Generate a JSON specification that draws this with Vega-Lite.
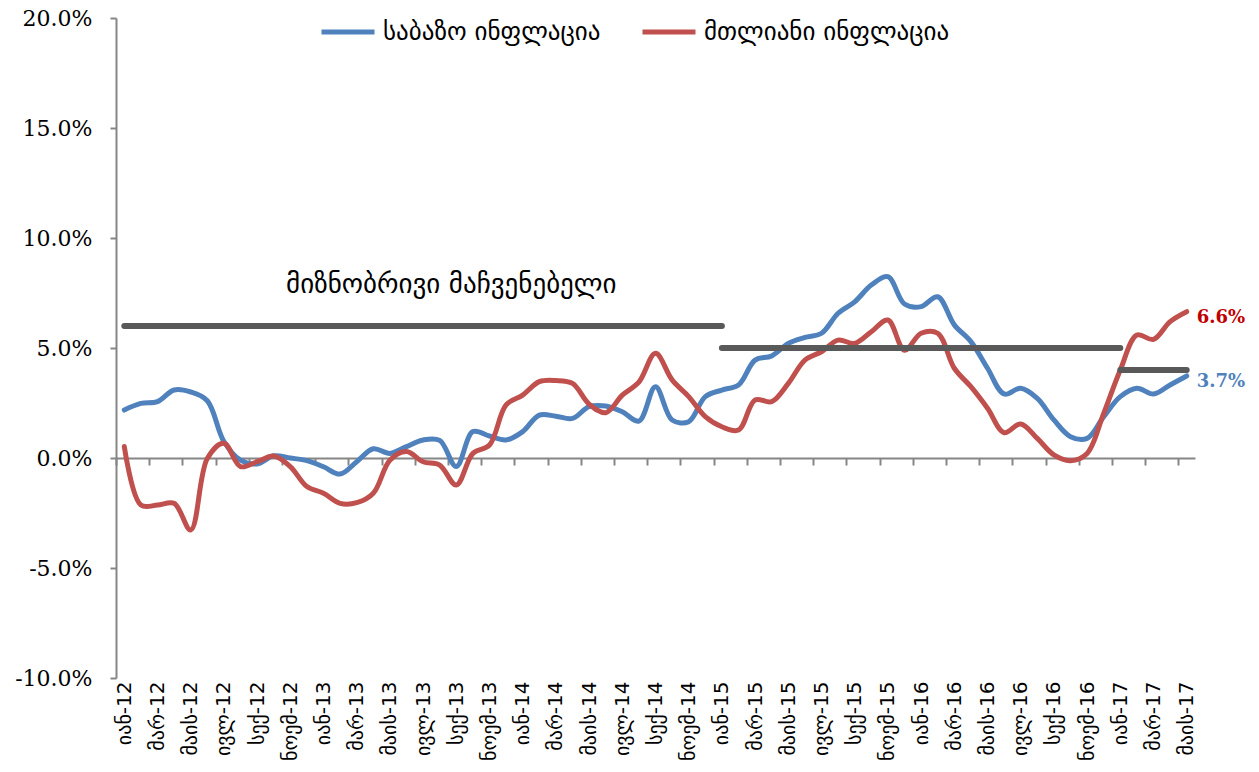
{
  "$schema": "https://vega.github.io/schema/vega-lite/v6.json",
  "width": 1079,
  "height": 660,
  "autosize": "none",
  "padding": {"left": 116, "top": 18, "right": 64, "bottom": 94},
  "background": "white",
  "config": {"view": {"stroke": null}, "font": "DejaVu Serif"},
  "layer": [
    {
      "data": {"values": [
        {"t": 0, "month": "იან-12", "core": 2.18, "headline": 0.52},
        {"t": 1, "month": "თებ-12", "core": 2.48, "headline": -2.14},
        {"t": 2, "month": "მარ-12", "core": 2.56, "headline": -2.14},
        {"t": 3, "month": "აპრ-12", "core": 3.09, "headline": -2.06},
        {"t": 4, "month": "მაის-12", "core": 3.0, "headline": -3.27},
        {"t": 5, "month": "ივნ-12", "core": 2.6, "headline": -0.02},
        {"t": 6, "month": "ივლ-12", "core": 0.75, "headline": 0.67},
        {"t": 7, "month": "აგვ-12", "core": -0.1, "headline": -0.39},
        {"t": 8, "month": "სექ-12", "core": -0.27, "headline": -0.17},
        {"t": 9, "month": "ოქტ-12", "core": 0.1, "headline": 0.09},
        {"t": 10, "month": "ნოემ-12", "core": 0.0, "headline": -0.39},
        {"t": 11, "month": "დეკ-12", "core": -0.12, "headline": -1.3},
        {"t": 12, "month": "იან-13", "core": -0.4, "headline": -1.6},
        {"t": 13, "month": "თებ-13", "core": -0.73, "headline": -2.06},
        {"t": 14, "month": "მარ-13", "core": -0.17, "headline": -2.03},
        {"t": 15, "month": "აპრ-13", "core": 0.42, "headline": -1.6},
        {"t": 16, "month": "მაის-13", "core": 0.21, "headline": -0.1},
        {"t": 17, "month": "ივნ-13", "core": 0.52, "headline": 0.29},
        {"t": 18, "month": "ივლ-13", "core": 0.82, "headline": -0.17},
        {"t": 19, "month": "აგვ-13", "core": 0.8, "headline": -0.32},
        {"t": 20, "month": "სექ-13", "core": -0.39, "headline": -1.23},
        {"t": 21, "month": "ოქტ-13", "core": 1.2, "headline": 0.21},
        {"t": 22, "month": "ნოემ-13", "core": 1.0, "headline": 0.59},
        {"t": 23, "month": "დეკ-13", "core": 0.82, "headline": 2.41},
        {"t": 24, "month": "იან-14", "core": 1.2, "headline": 2.86},
        {"t": 25, "month": "თებ-14", "core": 1.95, "headline": 3.47},
        {"t": 26, "month": "მარ-14", "core": 1.9, "headline": 3.52},
        {"t": 27, "month": "აპრ-14", "core": 1.8, "headline": 3.39},
        {"t": 28, "month": "მაის-14", "core": 2.33, "headline": 2.45},
        {"t": 29, "month": "ივნ-14", "core": 2.36, "headline": 2.06},
        {"t": 30, "month": "ივლ-14", "core": 2.1, "headline": 2.86},
        {"t": 31, "month": "აგვ-14", "core": 1.68, "headline": 3.45},
        {"t": 32, "month": "სექ-14", "core": 3.24, "headline": 4.76},
        {"t": 33, "month": "ოქტ-14", "core": 1.73, "headline": 3.55},
        {"t": 34, "month": "ნოემ-14", "core": 1.65, "headline": 2.79},
        {"t": 35, "month": "დეკ-14", "core": 2.79, "headline": 1.88},
        {"t": 36, "month": "იან-15", "core": 3.09, "headline": 1.42},
        {"t": 37, "month": "თებ-15", "core": 3.32, "headline": 1.27},
        {"t": 38, "month": "მარ-15", "core": 4.45, "headline": 2.64},
        {"t": 39, "month": "აპრ-15", "core": 4.64, "headline": 2.56},
        {"t": 40, "month": "მაის-15", "core": 5.21, "headline": 3.39},
        {"t": 41, "month": "ივნ-15", "core": 5.48, "headline": 4.45},
        {"t": 42, "month": "ივლ-15", "core": 5.67, "headline": 4.83},
        {"t": 43, "month": "აგვ-15", "core": 6.58, "headline": 5.36},
        {"t": 44, "month": "სექ-15", "core": 7.1, "headline": 5.21},
        {"t": 45, "month": "ოქტ-15", "core": 7.86, "headline": 5.74},
        {"t": 46, "month": "ნოემ-15", "core": 8.24, "headline": 6.27},
        {"t": 47, "month": "დეკ-15", "core": 7.0, "headline": 4.9},
        {"t": 48, "month": "იან-16", "core": 6.88, "headline": 5.67},
        {"t": 49, "month": "თებ-16", "core": 7.33, "headline": 5.67},
        {"t": 50, "month": "მარ-16", "core": 6.05, "headline": 4.08},
        {"t": 51, "month": "აპრ-16", "core": 5.29, "headline": 3.24},
        {"t": 52, "month": "მაის-16", "core": 4.08, "headline": 2.26},
        {"t": 53, "month": "ივნ-16", "core": 2.91, "headline": 1.15},
        {"t": 54, "month": "ივლ-16", "core": 3.17, "headline": 1.55},
        {"t": 55, "month": "აგვ-16", "core": 2.71, "headline": 0.89},
        {"t": 56, "month": "სექ-16", "core": 1.73, "headline": 0.14},
        {"t": 57, "month": "ოქტ-16", "core": 0.97, "headline": -0.12},
        {"t": 58, "month": "ნოემ-16", "core": 0.89, "headline": 0.21},
        {"t": 59, "month": "დეკ-16", "core": 1.88, "headline": 2.03},
        {"t": 60, "month": "იან-17", "core": 2.79, "headline": 4.0},
        {"t": 61, "month": "თებ-17", "core": 3.17, "headline": 5.59},
        {"t": 62, "month": "მარ-17", "core": 2.91, "headline": 5.39},
        {"t": 63, "month": "აპრ-17", "core": 3.32, "headline": 6.2},
        {"t": 64, "month": "მაის-17", "core": 3.73, "headline": 6.65}
      ]},
      "transform": [{"fold": ["core", "headline"], "as": ["series", "value"]}],
      "mark": {"type": "line", "interpolate": "catmull-rom", "strokeWidth": 5, "strokeCap": "round", "strokeJoin": "round"},
      "encoding": {
        "x": {
          "field": "t", "type": "quantitative",
          "scale": {"domain": [-0.5, 64.5], "nice": false, "zero": false},
          "axis": {
            "title": null,
            "values": [-0.5, 1.5, 3.5, 5.5, 7.5, 9.5, 11.5, 13.5, 15.5, 17.5, 19.5, 21.5, 23.5, 25.5, 27.5, 29.5, 31.5, 33.5, 35.5, 37.5, 39.5, 41.5, 43.5, 45.5, 47.5, 49.5, 51.5, 53.5, 55.5, 57.5, 59.5, 61.5, 63.5],
            "tickCount": 200,
            "offset": -220,
            "grid": false,
            "domainColor": "#868686", "domainWidth": 2,
            "tickColor": "#868686", "tickWidth": 2, "tickSize": 7,
            "labelAngle": 270, "labelPadding": 216, "labelOffset": 8.3,
            "labelFontSize": 20, "labelFont": "DejaVu Sans", "labelColor": "black",
            "labelOverlap": false, "labelBound": false, "labelFlush": false,
            "labelExpr": "['იან','თებ','მარ','აპრ','მაის','ივნ','ივლ','აგვ','სექ','ოქტ','ნოემ','დეკ'][(datum.value+0.5)%12] + '-' + (12+floor((datum.value+0.5)/12))"
          }
        },
        "y": {
          "field": "value", "type": "quantitative",
          "scale": {"domain": [-10, 20], "nice": false},
          "axis": {
            "title": null,
            "values": [-10, -5, 0, 5, 10, 15, 20],
            "grid": false,
            "domainColor": "#868686", "domainWidth": 2,
            "tickColor": "#868686", "tickWidth": 2, "tickSize": 6,
            "labelFontSize": 22, "labelFont": "DejaVu Serif", "labelColor": "black", "labelPadding": 18,
            "labelExpr": "(datum.value<0?'-':'')+format(abs(datum.value),'.1f')+'%'"
          }
        },
        "color": {
          "field": "series", "type": "nominal",
          "scale": {"domain": ["core", "headline"], "range": ["#4F81BD", "#C0504D"]},
          "legend": {
            "title": null, "orient": "none", "legendX": 203, "legendY": -15,
            "direction": "horizontal", "symbolType": "stroke", "symbolSize": 2809, "symbolStrokeWidth": 5,
            "labelFontSize": 25, "labelFont": "DejaVu Sans", "labelColor": "black", "labelOffset": 6,
            "columnPadding": 31, "labelLimit": 400,
            "labelExpr": "datum.value=='core'?'საბაზო ინფლაცია':'მთლიანი ინფლაცია'"
          }
        }
      }
    },
    {
      "data": {"values": [
        {"start": 0, "end": 36, "target": 6},
        {"start": 36, "end": 60, "target": 5},
        {"start": 60, "end": 64, "target": 4}
      ]},
      "mark": {"type": "rule", "strokeWidth": 6, "strokeCap": "round", "color": "#595959"},
      "encoding": {
        "x": {"field": "start", "type": "quantitative", "title": null},
        "x2": {"field": "end"},
        "y": {"field": "target", "type": "quantitative", "title": null}
      }
    },
    {
      "data": {"values": [{"t": 19.7, "v": 7.86, "label": "მიზნობრივი მაჩვენებელი"}]},
      "mark": {"type": "text", "fontSize": 27, "font": "DejaVu Sans", "color": "black"},
      "encoding": {
        "x": {"field": "t", "type": "quantitative", "title": null},
        "y": {"field": "v", "type": "quantitative", "title": null},
        "text": {"field": "label"}
      }
    },
    {
      "data": {"values": [
        {"t": 64, "v": 6.65, "label": "6.6%"},
        {"t": 64, "v": 3.73, "label": "3.7%"}
      ]},
      "mark": {"type": "text", "fontSize": 18, "font": "DejaVu Serif", "fontWeight": "bold", "align": "left", "dx": 10, "dy": 6},
      "encoding": {
        "x": {"field": "t", "type": "quantitative", "title": null},
        "y": {"field": "v", "type": "quantitative", "title": null},
        "text": {"field": "label"},
        "color": {"condition": {"test": "datum.label=='6.6%'", "value": "#C00000"}, "value": "#4F81BD"}
      }
    }
  ]
}
